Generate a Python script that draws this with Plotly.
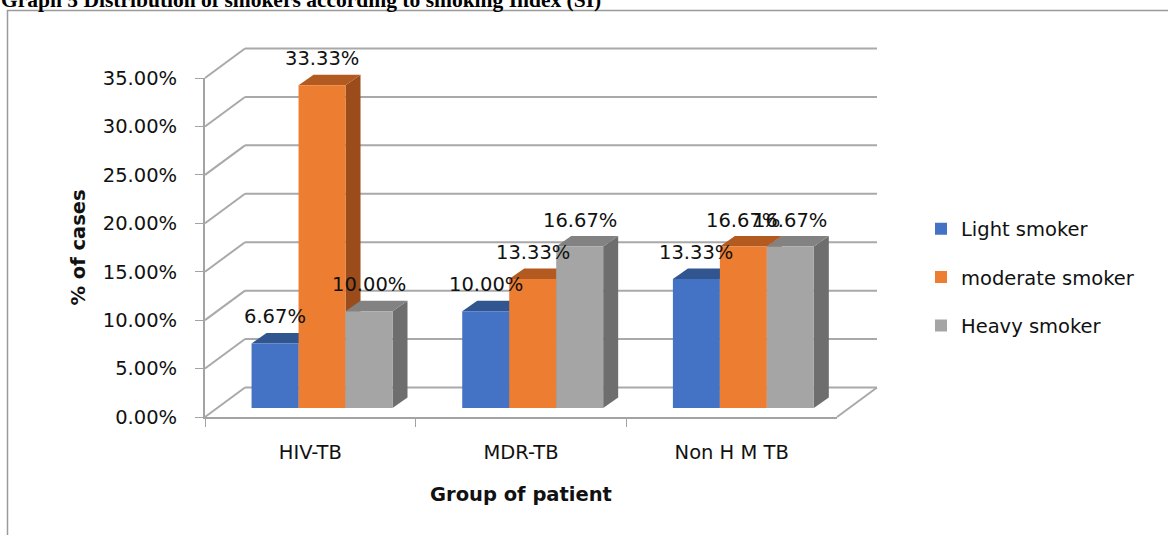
import plotly.graph_objects as go

# ---- data -----------------------------------------------------------
groups = ["HIV-TB", "MDR-TB", "Non H M TB"]
series_names = ["Light smoker", "moderate smoker", "Heavy smoker"]
light_smoker = [6.67, 10.00, 13.33]
moderate_smoker = [33.33, 13.33, 16.67]
heavy_smoker = [10.00, 16.67, 16.67]
y_ticks = [0, 5, 10, 15, 20, 25, 30, 35]
y_tick_labels = [f"{t:.2f}%" for t in y_ticks]

title_text = "Graph 5 Distribution of smokers according to smoking Index (SI)"
y_title = "% of cases"
x_title = "Group of patient"

# ---- styling ----------------------------------------------------------
front_colors = ["#4472C4", "#ED7D31", "#A5A5A5"]
top_colors = ["#30558F", "#B35A21", "#828282"]
side_colors = ["#284A80", "#9C4B1A", "#6E6E6E"]
grid_color = "#a9a9a9"
axis_color = "#a3a3a3"
FONT = "DejaVu Sans"
FS = 19.5
TXT = "#111111"

W, H = 1168, 535
# front plane of the 3-D box (pixels)
FX0, FX1 = 205, 837
FY0, FY1 = 417, 78
N = len(groups)
YMAX = y_ticks[-1]
PXU = (FX1 - FX0) / N       # pixels per category
PYU = (FY0 - FY1) / YMAX    # pixels per percent


def ux(px):
    return px / PXU


def uy(px):
    return px / PYU


WALL = (ux(40), uy(29.5))        # depth of the back wall
BAR_SHIFT = (ux(11.7), uy(9.0))  # bars sit a little behind the front plane
BAR_D = (ux(15), uy(10.5))       # bar thickness in depth
BARGAP = 0.331
BW = (1 - BARGAP) / 3

# canvas for the 3-D box (pixels)
BX0, BX1, BYT, BYB = 150, 1000, 20, 440
x2_range = [-0.5 + ux(BX0 - FX0), -0.5 + ux(BX1 - FX0)]
y2_range = [uy(FY0 - BYB), uy(FY0 - BYT)]
x3_range = [r - BAR_SHIFT[0] for r in x2_range]
y3_range = [r - BAR_SHIFT[1] for r in y2_range]

series = [light_smoker, moderate_smoker, heavy_smoker]

fig = go.Figure()

# anchor traces for the axis frames
fig.add_trace(go.Scatter(x=groups, y=[0] * N, mode="markers",
                         marker=dict(opacity=0), showlegend=False,
                         hoverinfo="skip", xaxis="x", yaxis="y"))
fig.add_trace(go.Scatter(x=[0], y=[0], mode="markers",
                         marker=dict(opacity=0), showlegend=False,
                         hoverinfo="skip", xaxis="x2", yaxis="y2"))

# front faces of the bars
for k, (name, vals) in enumerate(zip(series_names, series)):
    fig.add_trace(go.Bar(
        x=list(range(N)), y=vals, name=name,
        marker=dict(color=front_colors[k], line=dict(width=0)),
        xaxis="x3", yaxis="y3", legendgroup=name, hoverinfo="skip",
    ))

shapes = []
# back wall gridlines and side wall lines
for t in y_ticks:
    shapes.append(dict(type="line", xref="x2", yref="y2", layer="below",
                       x0=-0.5 + WALL[0], x1=N - 0.5 + WALL[0],
                       y0=t + WALL[1], y1=t + WALL[1],
                       line=dict(color=grid_color, width=2)))
    shapes.append(dict(type="line", xref="x2", yref="y2", layer="below",
                       x0=-0.5, x1=-0.5 + WALL[0],
                       y0=t, y1=t + WALL[1],
                       line=dict(color=grid_color, width=2)))
# right edge of the floor
shapes.append(dict(type="line", xref="x2", yref="y2", layer="below",
                   x0=N - 0.5, x1=N - 0.5 + WALL[0], y0=0, y1=WALL[1],
                   line=dict(color=grid_color, width=2)))

annotations = []
dx, dy = BAR_D
for i in range(N):
    for k, vals in enumerate(series):
        v = vals[i]
        cx = i + (k - 1) * BW
        left, right = cx - BW / 2, cx + BW / 2
        side = (f"M{right},0 L{right + dx},{dy} L{right + dx},{v + dy} "
                f"L{right},{v} Z")
        top = (f"M{left},{v} L{left + dx},{v + dy} L{right + dx},{v + dy} "
               f"L{right},{v} Z")
        shapes.append(dict(type="path", path=side, xref="x3", yref="y3",
                           layer="below", fillcolor=side_colors[k],
                           line=dict(width=0)))
        shapes.append(dict(type="path", path=top, xref="x3", yref="y3",
                           layer="below", fillcolor=top_colors[k],
                           line=dict(width=0)))
        annotations.append(dict(x=cx, y=v, xref="x3", yref="y3",
                                text=f"{v:.2f}%", showarrow=False,
                                yanchor="middle", yshift=26.5,
                                font=dict(family=FONT, size=FS, color=TXT)))

# chart border
shapes.append(dict(type="rect", xref="paper", yref="paper",
                   x0=7.5 / W, x1=1.01, y0=-0.02, y1=1 - 10.5 / H,
                   line=dict(color="#9a9a9a", width=1.5),
                   fillcolor="rgba(0,0,0,0)", layer="below"))

annotations.append(dict(x=-1 / W, y=1 - 14 / H, xref="paper", yref="paper",
                        xanchor="left", yanchor="bottom", showarrow=False,
                        text=f"<b>{title_text}</b>",
                        font=dict(family="Liberation Serif", size=21.5,
                                  color="#000")))

fig.update_layout(
    width=W, height=H,
    margin=dict(l=0, r=0, t=0, b=0, autoexpand=False),
    paper_bgcolor="white", plot_bgcolor="rgba(0,0,0,0)",
    barmode="group", bargap=BARGAP, bargroupgap=0,
    shapes=shapes, annotations=annotations,
    showlegend=True,
    legend=dict(x=921 / W, y=1 - 209.5 / H, xanchor="left", yanchor="top",
                font=dict(family=FONT, size=FS, color=TXT),
                traceorder="grouped", tracegroupgap=20,
                bgcolor="rgba(0,0,0,0)"),
    xaxis=dict(domain=[FX0 / W, FX1 / W], anchor="y", type="category",
               range=[-0.5, N - 0.5], tickson="boundaries", automargin=False,
               ticks="outside", ticklen=8, tickcolor=axis_color,
               showline=True, linecolor=axis_color, linewidth=2,
               showgrid=False, zeroline=False,
               tickfont=dict(family=FONT, size=FS, color=TXT),
               ticklabelstandoff=17,
               title=dict(text=x_title, standoff=24,
                          font=dict(family=FONT, size=FS, color=TXT,
                                    weight="bold"))),
    yaxis=dict(domain=[1 - FY0 / H, 1 - FY1 / H], anchor="x",
               range=[0, YMAX], tickvals=y_ticks, ticktext=y_tick_labels,
               ticks="outside", ticklen=8, automargin=False,
               tickcolor=axis_color, showline=True, linecolor=axis_color,
               linewidth=2, showgrid=False, zeroline=False,
               tickfont=dict(family=FONT, size=FS, color=TXT),
               ticklabelstandoff=14,
               title=dict(text=y_title, standoff=12,
                          font=dict(family=FONT, size=FS, color=TXT,
                                    weight="bold"))),
    xaxis2=dict(domain=[BX0 / W, BX1 / W], anchor="y2", range=x2_range,
                visible=False, automargin=False),
    yaxis2=dict(domain=[1 - BYB / H, 1 - BYT / H], anchor="x2",
                range=y2_range, visible=False, automargin=False),
    xaxis3=dict(overlaying="x2", anchor="y3", range=x3_range,
                domain=[BX0 / W, BX1 / W], visible=False, automargin=False),
    yaxis3=dict(overlaying="y2", anchor="x3", range=y3_range,
                domain=[1 - BYB / H, 1 - BYT / H], visible=False,
                automargin=False),
)

fig.write_html("out.html")
